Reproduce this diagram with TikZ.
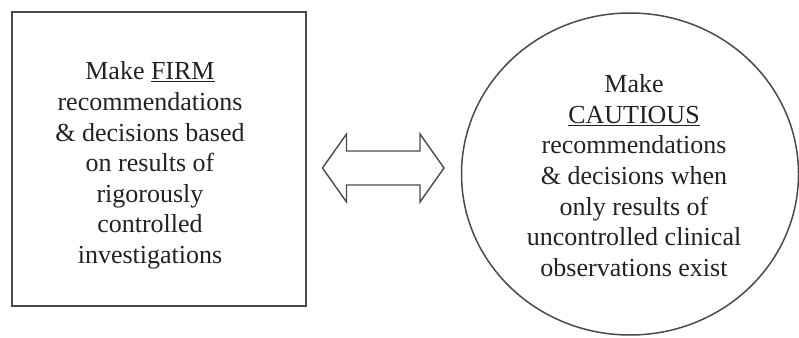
\documentclass[tikz,border=0pt]{standalone}
\usepackage{fontspec}
\setmainfont{Liberation Serif}
\usetikzlibrary{shapes.geometric,calc}
\definecolor{linegray}{HTML}{4A4A4A}
\definecolor{txt}{HTML}{222222}
\begin{document}
\begin{tikzpicture}[x=1pt,y=-1pt,
  frame/.style={draw=linegray, line width=1.8pt, inner sep=0pt},
  label/.style={align=center, text=txt, inner sep=0pt, font=\fontsize{26}{30.6}\selectfont},
  arrowshape/.style={draw=linegray, line width=1.4pt, line join=miter}]
\useasboundingbox (0,0) rectangle (799,337);
% left box
\node[frame, rectangle, minimum width=294pt, minimum height=294pt] (box) at (159,159) {};
\node[label] (boxtext) at (150,165.5) {Make \underline{FIRM}\\recommendations\\\& decisions based\\on results of\\rigorously\\controlled\\investigations};
% right ellipse
\node[frame, ellipse, line width=1.5pt, minimum width=337pt, minimum height=322pt] (circ) at (630,174) {};
\node[label] (circtext) at (634,175.6) {Make\\\underline{CAUTIOUS}\\recommendations\\\& decisions when\\only results of\\uncontrolled clinical\\observations exist};
% double arrow
\coordinate (ac) at (384,168);
\draw[arrowshape] ($(ac)+(-61.5,0)$) -- ++(24,-34) -- ++(0,17) -- ++(73.5,0) -- ++(0,-17) -- ++(24,34) -- ++(-24,34) -- ++(0,-17) -- ++(-73.5,0) -- ++(0,17) -- cycle;
\end{tikzpicture}
\end{document}
